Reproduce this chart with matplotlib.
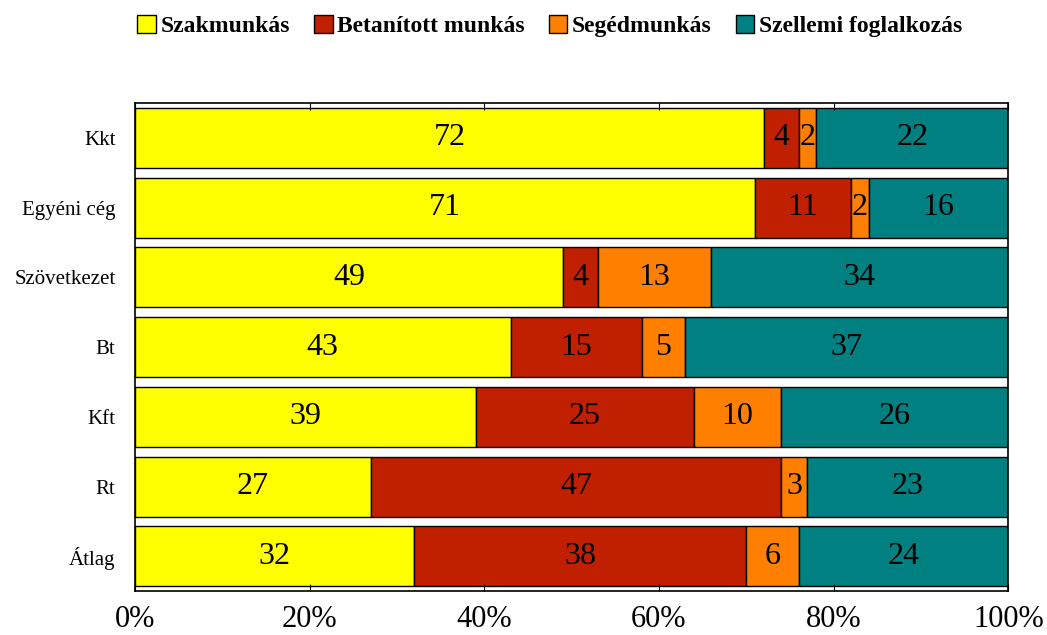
import numpy as np
import matplotlib.pyplot as plt

plt.rcParams['font.family'] = ['Liberation Serif', 'DejaVu Serif']

kategoriak = ['Kkt', 'Egyéni cég', 'Szövetkezet', 'Bt', 'Kft', 'Rt', 'Átlag']
szakmunkas = [72, 71, 49, 43, 39, 27, 32]
betanitott = [4, 11, 4, 15, 25, 47, 38]
segedmunkas = [2, 2, 13, 5, 10, 3, 6]
szellemi = [22, 16, 34, 37, 26, 23, 24]

sorozatok = ['Szakmunkás', 'Betanított munkás', 'Segédmunkás', 'Szellemi foglalkozás']
szinek = ['#FFFF00', '#C02000', '#FF8000', '#008080']
adatok = [szakmunkas, betanitott, segedmunkas, szellemi]

fig = plt.figure(figsize=(10.47, 6.35), dpi=100)
ax = fig.add_axes([0.129, 0.069, 0.834, 0.769])

y = np.arange(len(kategoriak))
bal = np.zeros(len(kategoriak))
for nev, szin, ertek in zip(sorozatok, szinek, adatok):
    ertek = np.array(ertek)
    bars = ax.barh(y, ertek, left=bal, height=0.86, color=szin,
                   edgecolor='black', linewidth=1, label=nev)
    for b, v in zip(bars, ertek):
        ax.text(b.get_x() + b.get_width() / 2, b.get_y() + b.get_height() / 2,
                str(v), ha='center', va='center', fontsize=23)
    bal += ertek

ax.set_xlim(0, 100)
ax.set_ylim(len(kategoriak) - 0.5, -0.5)
ax.set_yticks(y)
ax.set_yticklabels(kategoriak, fontsize=15)
ax.tick_params(axis='y', length=0, pad=14)
ax.set_xticks(np.arange(0, 101, 20))
ax.set_xticklabels([f'{v}%' for v in range(0, 101, 20)], fontsize=22)
ax.tick_params(axis='x', direction='in', top=True, length=5, pad=10)
for s in ax.spines.values():
    s.set_linewidth(1.2)

fig.legend(loc='upper center', ncol=4, bbox_to_anchor=(0.525, 1.01),
           frameon=False, handlelength=0.8, handleheight=0.8,
           handletextpad=0.2, columnspacing=1.0,
           prop={'weight': 'bold', 'size': 17})

fig.savefig('out.png', dpi=100)
